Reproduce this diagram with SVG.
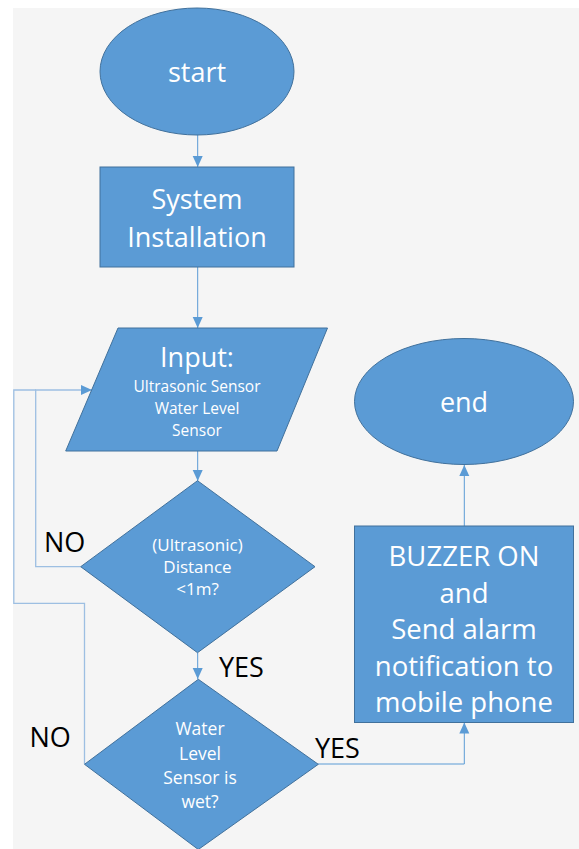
<svg xmlns="http://www.w3.org/2000/svg" width="579" height="849" viewBox="0 0 579 849">
<style>
.shape{fill:#5B9BD5;stroke:#41719C;stroke-width:1}
.t{font-family:"Open Sans","Liberation Sans",sans-serif;fill:#ffffff;text-anchor:middle}
.lbl{font-family:"Open Sans","Liberation Sans",sans-serif;fill:#000000;font-size:27px}
.c{fill:none;stroke:#5B9BD5;stroke-width:1}
.loop{fill:none;stroke:#9dbfe2;stroke-width:1.3}
</style>
<defs>
<marker id="arr" markerUnits="userSpaceOnUse" markerWidth="12" markerHeight="12" viewBox="0 0 12 12" refX="11" refY="6" orient="auto">
<path d="M0,1 L11,6 L0,11 Z" fill="#5B9BD5"/>
</marker>
</defs>
<rect x="13" y="8" width="566" height="841" fill="#f5f5f5"/>
<g id="connectors">
<line class="c" x1="197.7" y1="135" x2="197.7" y2="167" marker-end="url(#arr)"/>
<line class="c" x1="197.7" y1="267" x2="197.7" y2="328" marker-end="url(#arr)"/>
<line class="c" x1="197.7" y1="451" x2="197.7" y2="481" marker-end="url(#arr)"/>
<line class="c" x1="197.7" y1="653" x2="197.7" y2="679" marker-end="url(#arr)"/>
<polyline class="loop" points="80.7,566.7 35.7,566.7 35.7,390 92,390" marker-end="url(#arr)"/>
<polyline class="loop" points="84.5,764 84.5,603.3 13.8,603.3 13.8,390 36,390"/>
<polyline class="c" points="318,764 464.3,764 464.3,722.5" marker-end="url(#arr)"/>
<line class="c" x1="464.3" y1="526" x2="464.3" y2="465" marker-end="url(#arr)"/>
</g>
<g id="start">
<ellipse class="shape" cx="197" cy="71.5" rx="97" ry="63.5"/>
<text class="t" x="197" y="81.7" font-size="27">start</text>
</g>
<g id="install">
<rect class="shape" x="100" y="167" width="194" height="100"/>
<text class="t" x="197" y="209.3" font-size="27">System</text>
<text class="t" x="197" y="246.7" font-size="27">Installation</text>
</g>
<g id="input">
<polygon class="shape" points="118,328 327.5,328 277,451 65.7,451"/>
<text class="t" x="197" y="366.7" font-size="27">Input:</text>
<text class="t" x="197" y="392.3" font-size="15.5">Ultrasonic Sensor</text>
<text class="t" x="197" y="414.3" font-size="15.5">Water Level</text>
<text class="t" x="197" y="436" font-size="15.5">Sensor</text>
</g>
<g id="distance">
<polygon class="shape" points="197.5,480.7 315,566.7 197.5,652.7 80.7,566.7"/>
<text class="t" x="197.5" y="551" font-size="17">(Ultrasonic)</text>
<text class="t" x="197.5" y="573" font-size="17">Distance</text>
<text class="t" x="197.5" y="595" font-size="17">&lt;1m?</text>
</g>
<g id="wet">
<polygon class="shape" points="198.3,679.3 318.3,764.3 198.3,849.5 84.5,764.3"/>
<text class="t" x="200" y="735" font-size="17.5">Water</text>
<text class="t" x="200" y="760" font-size="17.5">Level</text>
<text class="t" x="200" y="784.3" font-size="17.5">Sensor is</text>
<text class="t" x="200" y="808.3" font-size="17.5">wet?</text>
</g>
<g id="buzzer">
<rect class="shape" x="354.5" y="526" width="219" height="196.5"/>
<text class="t" x="464" y="566" font-size="27.5">BUZZER ON</text>
<text class="t" x="464" y="602.5" font-size="27.5">and</text>
<text class="t" x="464" y="639" font-size="27.5">Send alarm</text>
<text class="t" x="464" y="675.5" font-size="27.5">notification to</text>
<text class="t" x="464" y="712" font-size="27.5">mobile phone</text>
</g>
<g id="end">
<ellipse class="shape" cx="464" cy="401.5" rx="109.5" ry="63"/>
<text class="t" x="464" y="412.3" font-size="27">end</text>
</g>
<g id="labels">
<text class="lbl" x="44" y="552">NO</text>
<text class="lbl" x="29.5" y="747">NO</text>
<text class="lbl" x="219" y="677">YES</text>
<text class="lbl" x="315" y="758">YES</text>
</g>
</svg>
